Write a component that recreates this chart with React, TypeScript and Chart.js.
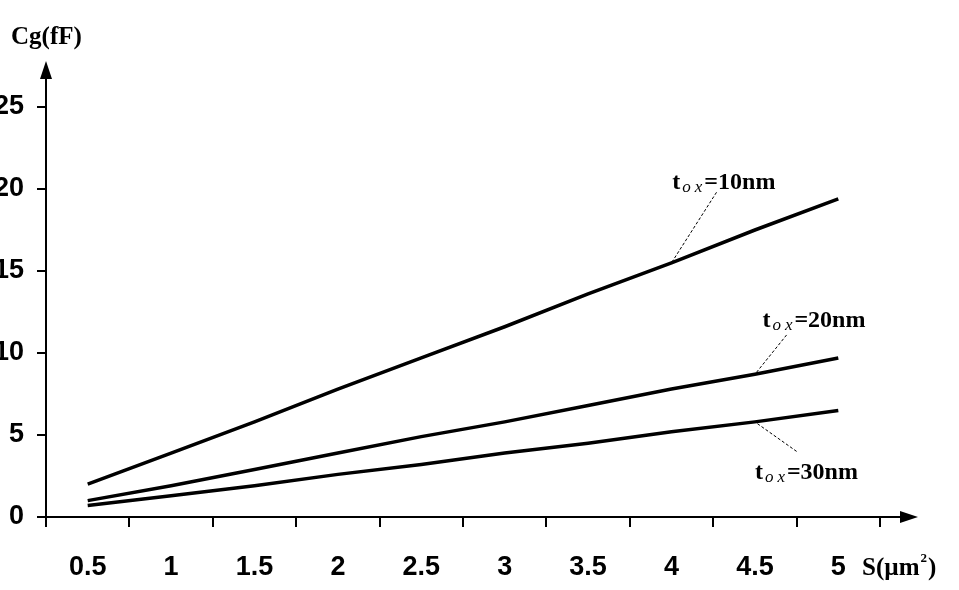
import React, { useEffect, useRef } from "react";
import { Chart, registerables } from "chart.js";

Chart.register(...registerables);

// ---- data ----
const categories = ["0.5", "1", "1.5", "2", "2.5", "3", "3.5", "4", "4.5", "5"];
const tox10 = [2.0, 3.9, 5.8, 7.8, 9.7, 11.6, 13.6, 15.5, 17.5, 19.4];
const tox20 = [1.0, 1.9, 2.9, 3.9, 4.9, 5.8, 6.8, 7.8, 8.7, 9.7];
const tox30 = [0.7, 1.3, 1.9, 2.6, 3.2, 3.9, 4.5, 5.2, 5.8, 6.5];
const seriesNames = ["=10nm", "=20nm", "=30nm"];
const yTitle = "Cg(fF)";
const xTitle = "S(\u00b5m";

// annotation anchors in data coordinates (category index, value)
const annotTextPos = [
  [7.01, 20.0],
  [8.09, 11.6],
  [8.0, 2.3],
];
const annotLeaderFrom = [
  [7.54, 19.8],
  [8.38, 11.1],
  [8.5, 4.0],
];
const annotLeaderTo = [
  [7.0, 15.5],
  [8.0, 8.7],
  [8.0, 5.8],
];

const TICK_FONT = "'Liberation Sans', Arial, sans-serif";
const SERIF = "'Liberation Serif', 'DejaVu Serif', serif";

const decor = {
  id: "decor",
  afterDraw(chart: any) {
    const ctx = chart.ctx;
    const { left, right, top, bottom } = chart.chartArea;
    const xs = chart.scales.x;
    const ys = chart.scales.y;
    ctx.save();
    ctx.strokeStyle = "#000";
    ctx.fillStyle = "#000";
    ctx.lineWidth = 2;
    // axis extensions
    ctx.beginPath();
    ctx.moveTo(left, top);
    ctx.lineTo(left, 75);
    ctx.moveTo(right, bottom);
    ctx.lineTo(903, bottom);
    ctx.stroke();
    // arrows
    ctx.beginPath();
    ctx.moveTo(left, 61);
    ctx.lineTo(left - 6, 79);
    ctx.lineTo(left + 6, 79);
    ctx.closePath();
    ctx.fill();
    ctx.beginPath();
    ctx.moveTo(918, bottom);
    ctx.lineTo(900, bottom - 6);
    ctx.lineTo(900, bottom + 6);
    ctx.closePath();
    ctx.fill();

    // axis titles
    ctx.textBaseline = "alphabetic";
    ctx.textAlign = "left";
    ctx.font = `bold 25px ${SERIF}`;
    ctx.fillText(yTitle, 11, 44);
    ctx.font = `bold 25px ${SERIF}`;
    const w = ctx.measureText(xTitle).width;
    ctx.fillText(xTitle, 862, 575);
    ctx.font = `bold 13px ${SERIF}`;
    ctx.fillText("2", 863 + w, 562);
    const w2 = ctx.measureText("2").width;
    ctx.font = `bold 25px ${SERIF}`;
    ctx.fillText(")", 864 + w + w2, 575);

    // annotations
    for (let i = 0; i < seriesNames.length; i++) {
      const tx = xs.getPixelForValue(annotTextPos[i][0]);
      const ty = ys.getPixelForValue(annotTextPos[i][1]);
      ctx.font = `bold 24px ${SERIF}`;
      ctx.fillText("t", tx, ty);
      const tw = ctx.measureText("t").width;
      ctx.font = `italic 17px ${SERIF}`;
      ctx.fillText("o", tx + tw + 2, ty + 3);
      const ow = ctx.measureText("o").width;
      ctx.fillText("x", tx + tw + ow + 6, ty + 3);
      const xw = ctx.measureText("x").width;
      ctx.font = `bold 24px ${SERIF}`;
      ctx.fillText(seriesNames[i], tx + tw + ow + xw + 8, ty);

      ctx.beginPath();
      ctx.lineWidth = 1;
      ctx.setLineDash([3, 2]);
      ctx.moveTo(xs.getPixelForValue(annotLeaderFrom[i][0]), ys.getPixelForValue(annotLeaderFrom[i][1]));
      ctx.lineTo(xs.getPixelForValue(annotLeaderTo[i][0]), ys.getPixelForValue(annotLeaderTo[i][1]));
      ctx.stroke();
      ctx.setLineDash([]);
    }
    ctx.restore();
  },
};

export default function App() {
  const ref = useRef<HTMLCanvasElement>(null);
  useEffect(() => {
    const lineDs = (data: number[]) => ({
      data,
      borderColor: "#000",
      backgroundColor: "#000",
      borderWidth: 3.5,
      pointRadius: 0,
      tension: 0,
    });
    const chart = new Chart(ref.current!, {
      type: "line",
      data: {
        labels: categories,
        datasets: [lineDs(tox10), lineDs(tox20), lineDs(tox30)],
      },
      options: {
        animation: false,
        responsive: false,
        layout: { padding: { top: 107, right: 79, left: 0, bottom: 0 } },
        plugins: { legend: { display: false }, tooltip: { enabled: false } },
        scales: {
          x: {
            type: "category",
            offset: true,
            afterFit: (s: any) => {
              s.height = 73;
            },
            grid: {
              offset: true,
              drawOnChartArea: false,
              drawTicks: true,
              tickLength: 10,
              color: "#000",
              lineWidth: 2,
            },
            border: { color: "#000", width: 2 },
            ticks: {
              color: "#000",
              padding: 24,
              maxRotation: 0,
              autoSkip: false,
              font: { family: TICK_FONT, size: 27, weight: "bold" },
            },
          },
          y: {
            min: 0,
            max: 25,
            afterFit: (s: any) => {
              s.width = 46;
            },
            grid: {
              drawOnChartArea: false,
              drawTicks: true,
              tickLength: 9,
              color: "#000",
              lineWidth: 2,
            },
            border: { color: "#000", width: 2 },
            ticks: {
              stepSize: 5,
              color: "#000",
              padding: 13,
              font: { family: TICK_FONT, size: 27, weight: "bold" },
            },
          },
        },
      },
      plugins: [decor],
    });
    return () => chart.destroy();
  }, []);
  return (
    <div style={{ position: "absolute", left: 0, top: 0, width: 959, height: 590, background: "#fff" }}>
      <canvas ref={ref} width={959} height={590} />
    </div>
  );
}
